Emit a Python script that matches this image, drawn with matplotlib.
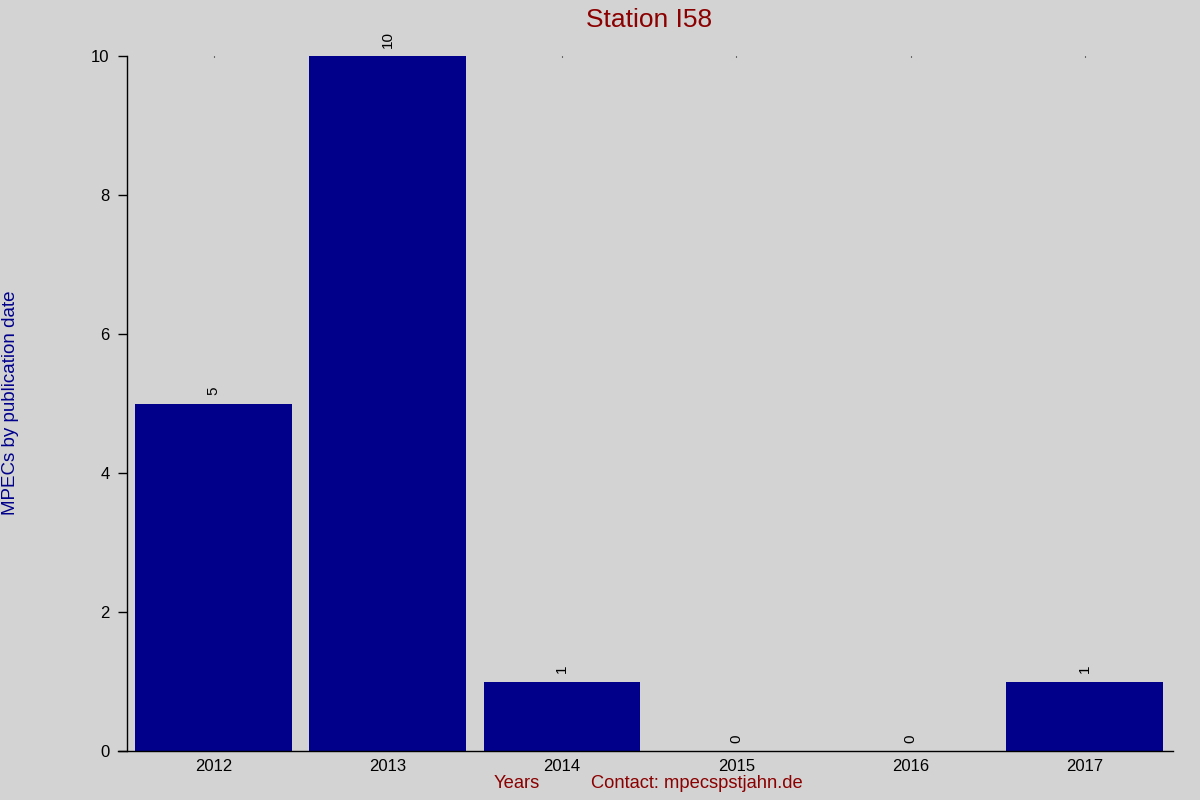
import matplotlib
matplotlib.use("Agg")
import matplotlib.pyplot as plt

plt.rcParams['font.family'] = ['Liberation Sans', 'DejaVu Sans']

years = [2012, 2013, 2014, 2015, 2016, 2017]
counts = [5, 10, 1, 0, 0, 1]
year_labels = ['2012', '2013', '2014', '2015', '2016', '2017']
y_ticks = [0, 2, 4, 6, 8, 10]

title = 'Station I58'
xlabel = 'Years'
contact = 'Contact: mpecspstjahn.de'
ylabel = 'MPECs by publication date'

bg = '#D3D3D3'
bar_color = '#00008B'
red = '#8B0000'

fig = plt.figure(figsize=(12, 8), dpi=100, facecolor=bg)
ax = fig.add_axes([118/1200, 49/800, 1054.7/1200, 695/800])
ax.set_facecolor(bg)

ax.bar(years, counts, width=0.9, color=bar_color, zorder=2)

for x, v in zip(years, counts):
    ax.annotate(str(v), xy=(x, v), xytext=(0, 6.0), textcoords='offset points',
                rotation=90, ha='center', va='bottom', fontsize=11, color='black')

ax.set_xlim(2011.452, 2017.504)
ax.set_ylim(0, 10)

ax.spines['top'].set_visible(False)
ax.spines['right'].set_visible(False)
ax.spines['left'].set_position(('data', 2011.502))
for s in ('left', 'bottom'):
    ax.spines[s].set_linewidth(1.0)
    ax.spines[s].set_color('black')

ax.set_yticks(y_ticks)
ax.set_yticklabels([str(t) for t in y_ticks], fontsize=12)
ax.tick_params(axis='y', direction='out', length=6.3, width=1.0, pad=6, colors='black')

ax.set_xticks(years)
ax.set_xticklabels(year_labels, fontsize=12)
ax.tick_params(axis='x', bottom=False, top=True, labelbottom=True, labeltop=False,
               direction='in', length=1, width=0.8, pad=6)

fig.text(649/1200, 1 - 27/800, title, color=red, fontsize=19,
         ha='center', va='baseline')
fig.text(494/1200, 1 - 788/800, xlabel, color=red, fontsize=13.2,
         ha='left', va='baseline')
fig.text(591/1200, 1 - 788/800, contact, color=red, fontsize=13.2,
         ha='left', va='baseline')
fig.text(11/1200, 1 - 403/800, ylabel, color='#00008B', fontsize=13.5,
         rotation=90, ha='center', va='center')

fig.savefig('out.png', dpi=100, facecolor=bg)
